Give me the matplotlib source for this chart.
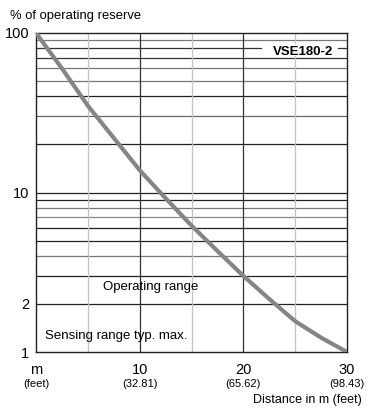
import matplotlib.pyplot as plt
import matplotlib.transforms as mtransforms
from matplotlib.patches import Rectangle

# curve: distance (m) vs % of operating reserve
distance = [0, 2.5, 5, 7.5, 10, 12.5, 15, 17.5, 20, 22.5, 25, 27.5, 30]
reserve = [100, 60, 35, 22, 13.8, 9.2, 6.2, 4.3, 3.0, 2.15, 1.56, 1.23, 1.0]

y_ticks = [1, 2, 10, 100]
x_ticks = [0, 10, 20, 30]
x_labels = ['m', '10', '20', '30']
feet_labels = ['(feet)', '(32.81)', '(65.62)', '(98.43)']

# grid lines, with the shade each has in the original
h_lines = [2, 3, 4, 5, 6, 7, 8, 9, 10, 20, 30, 40, 50, 60, 70, 80, 90]
h_colors = ['#222', '#222', '#777', '#222', '#222', '#888', '#777', '#222', '#222',
            '#222', '#666', '#222', '#777', '#777', '#333', '#333', '#777']
v_major = [10, 20]
v_minor = [5, 15, 25]

plt.rcParams['font.family'] = ['Liberation Sans', 'DejaVu Sans']

fig = plt.figure(figsize=(3.68, 4.08), dpi=100)
ax = fig.add_axes([36 / 368, 56 / 408, 311 / 368, 319 / 408])
ax.set_yscale('log')
ax.set_xlim(0, 30)
ax.set_ylim(1, 100)

for v, c in zip(h_lines, h_colors):
    ax.axhline(v, color=c, lw=0.9, zorder=1)
for v in v_major:
    ax.axvline(v, color='#333', lw=0.9, zorder=1)
for v in v_minor:
    ax.axvline(v, color='#c4c4c4', lw=0.9, zorder=1)

ax.plot(distance, reserve, color='#858585', lw=3.0, solid_capstyle='butt', zorder=3)

for s in ax.spines.values():
    s.set_color('#222')
    s.set_linewidth(1.0)

ax.tick_params(length=0)
ax.set_yticks(y_ticks)
ax.set_yticklabels([str(v) for v in y_ticks], fontsize=10.5)
ax.yaxis.set_minor_locator(plt.NullLocator())
ax.tick_params(axis='y', pad=5)
ax.set_xticks([])

trans = mtransforms.blended_transform_factory(ax.transData, ax.transAxes)
for x, lab, ft in zip(x_ticks, x_labels, feet_labels):
    ax.text(x, -0.035, lab, transform=trans, ha='center', va='top', fontsize=10.5)
    ax.text(x, -0.085, ft, transform=trans, ha='center', va='top', fontsize=8)

# white label box for the model name
ax.add_patch(Rectangle((21.8, 71.5), 7.3, 85.3 - 71.5, fc='white', ec='none', zorder=2))
ax.text(25.75, 75.5, 'VSE180-2', ha='center', va='center', fontsize=9.5, fontweight='bold', zorder=4)
ax.text(11.1, 2.55, 'Operating range', ha='center', va='center', fontsize=9.5, zorder=4)
ax.text(0.85, 1.26, 'Sensing range typ. max.', ha='left', va='center', fontsize=9.5, zorder=4)

fig.text(10 / 368, 1 - 16 / 408, '% of operating reserve', ha='left', va='center', fontsize=9.4)
fig.text(362 / 368, 1 - 400 / 408, 'Distance in m (feet)', ha='right', va='center', fontsize=9)

fig.savefig('out.png', dpi=100)
